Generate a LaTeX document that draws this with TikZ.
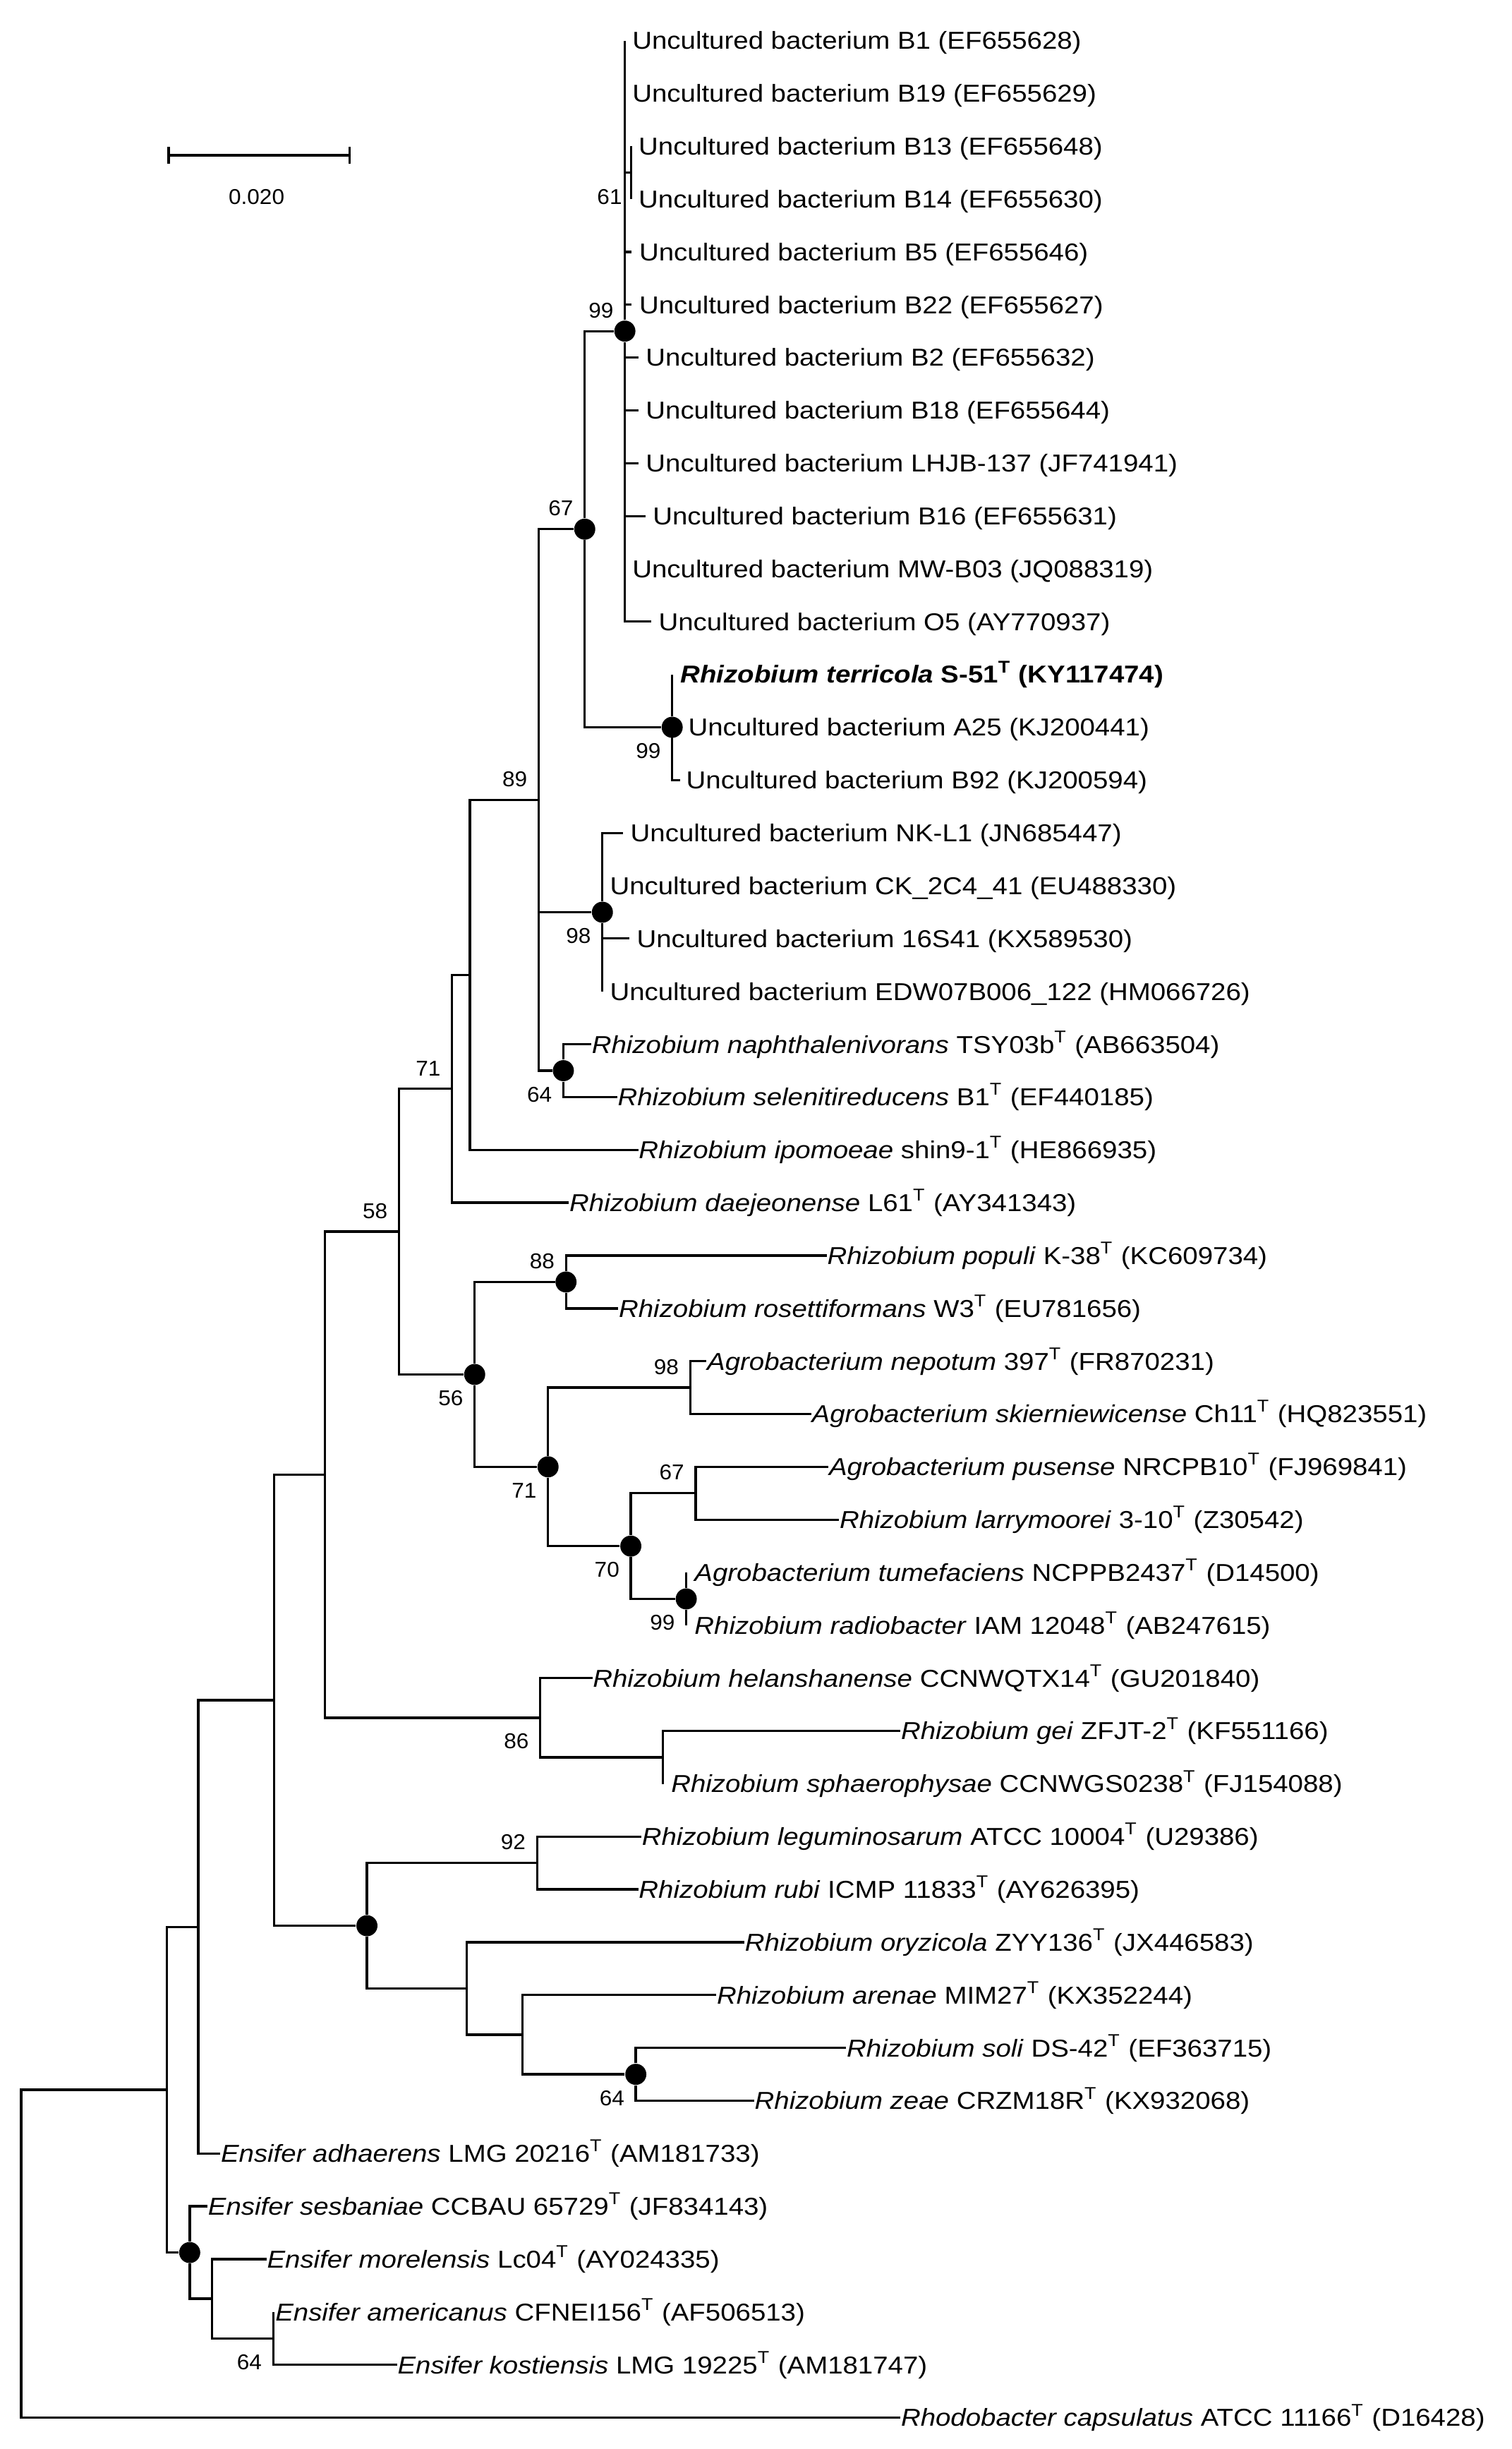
\documentclass[tikz,border=0pt]{standalone}
\usepackage{fontspec}
\setmainfont{Liberation Sans}[FakeStretch=1.11]
\newfontfamily\bootfamily{Liberation Sans}[FakeStretch=1.04]
\usetikzlibrary{positioning,arrows.meta}
\newcommand{\typ}{\textsuperscript{T}}
\newcommand{\treefont}{\fontsize{8.9pt}{10pt}\selectfont}
\newcommand{\bootfont}{\bootfamily\fontsize{7.8pt}{9pt}\selectfont}

\begin{document}
\begin{tikzpicture}[
        x=0.02cm, y=-0.02cm,
        branch/.style={draw, line width=0.85pt},
        leaf/.style={inner sep=0pt, text height=6.37pt, text depth=0pt, font=\treefont},
        boot/.style={inner sep=0pt, font=\bootfont},
        bsup/.style={boot, above left=0.16cm and 0.14cm of #1.center},
        bsdown/.style={boot, below left=0.2cm and 0.14cm of #1.center},
        bsdot/.style={circle, fill, inner sep=0pt, minimum size=0.27cm}
    ]
\useasboundingbox (0,0) rectangle (968,1568);

\coordinate (sbl) at (107.3,99.4);
\coordinate (sbr) at (224.5,99.4);
\draw[branch, {Bar[width=0.22cm]}-{Bar[width=0.22cm]}] (sbl) -- (sbr);
\node[boot] (sblab) at (164.3,125.9) {0.020};

\coordinate (t1) at (400.2,26.0);
\coordinate (t2) at (400.2,59.8);
\coordinate (t3) at (404.2,93.6);
\coordinate (t4) at (404.2,127.5);
\coordinate (t5) at (404.6,161.3);
\coordinate (t6) at (404.6,195.1);
\coordinate (t7) at (408.8,228.9);
\coordinate (t8) at (408.8,262.7);
\coordinate (t9) at (408.8,296.6);
\coordinate (t10) at (413.3,330.4);
\coordinate (t11) at (400.2,364.2);
\coordinate (t12) at (417.0,398.0);
\coordinate (t13) at (430.5,431.8);
\coordinate (t14) at (430.5,465.7);
\coordinate (t15) at (435.7,499.5);
\coordinate (t16) at (399.0,533.3);
\coordinate (t17) at (385.8,567.1);
\coordinate (t18) at (403.0,600.9);
\coordinate (t19) at (385.8,634.8);
\coordinate (t20) at (378.7,668.6);
\coordinate (t21) at (395.3,702.4);
\coordinate (t22) at (408.8,736.2);
\coordinate (t23) at (364.4,770.0);
\coordinate (t24) at (529.5,803.9);
\coordinate (t25) at (396.0,837.7);
\coordinate (t26) at (452.5,871.5);
\coordinate (t27) at (519.6,905.3);
\coordinate (t28) at (530.6,939.1);
\coordinate (t29) at (537.4,973.0);
\coordinate (t30) at (439.5,1006.8);
\coordinate (t31) at (439.5,1040.6);
\coordinate (t32) at (379.4,1074.4);
\coordinate (t33) at (576.7,1108.2);
\coordinate (t34) at (424.5,1142.1);
\coordinate (t35) at (410.8,1175.9);
\coordinate (t36) at (408.8,1209.7);
\coordinate (t37) at (476.8,1243.5);
\coordinate (t38) at (458.8,1277.3);
\coordinate (t39) at (542.0,1311.2);
\coordinate (t40) at (483.0,1345.0);
\coordinate (t41) at (141.1,1378.8);
\coordinate (t42) at (132.9,1412.6);
\coordinate (t43) at (170.7,1446.4);
\coordinate (t44) at (175.0,1480.3);
\coordinate (t45) at (254.3,1514.1);
\coordinate (t46) at (576.7,1547.9);

\node[leaf, right=0.09cm of t1] (l1) {Uncultured bacterium B1 (EF655628)};
\node[leaf, right=0.09cm of t2] (l2) {Uncultured bacterium B19 (EF655629)};
\node[leaf, right=0.09cm of t3] (l3) {Uncultured bacterium B13 (EF655648)};
\node[leaf, right=0.09cm of t4] (l4) {Uncultured bacterium B14 (EF655630)};
\node[leaf, right=0.09cm of t5] (l5) {Uncultured bacterium B5 (EF655646)};
\node[leaf, right=0.09cm of t6] (l6) {Uncultured bacterium B22 (EF655627)};
\node[leaf, right=0.09cm of t7] (l7) {Uncultured bacterium B2 (EF655632)};
\node[leaf, right=0.09cm of t8] (l8) {Uncultured bacterium B18 (EF655644)};
\node[leaf, right=0.09cm of t9] (l9) {Uncultured bacterium LHJB-137 (JF741941)};
\node[leaf, right=0.09cm of t10] (l10) {Uncultured bacterium B16 (EF655631)};
\node[leaf, right=0.09cm of t11] (l11) {Uncultured bacterium MW-B03 (JQ088319)};
\node[leaf, right=0.09cm of t12] (l12) {Uncultured bacterium O5 (AY770937)};
\node[leaf, right=0.1cm of t13] (l13) {\textbf{\textit{Rhizobium terricola} S-51\typ{} (KY117474)}};
\node[leaf, right=0.2cm of t14] (l14) {Uncultured bacterium A25 (KJ200441)};
\node[leaf, right=0.07cm of t15] (l15) {Uncultured bacterium B92 (KJ200594)};
\node[leaf, right=0.09cm of t16] (l16) {Uncultured bacterium NK-L1 (JN685447)};
\node[leaf, right=0.09cm of t17] (l17) {Uncultured bacterium CK\_2C4\_41 (EU488330)};
\node[leaf, right=0.09cm of t18] (l18) {Uncultured bacterium 16S41 (KX589530)};
\node[leaf, right=0.09cm of t19] (l19) {Uncultured bacterium EDW07B006\_122 (HM066726)};
\node[leaf, right=0pt of t20] (l20) {\textit{Rhizobium naphthalenivorans} TSY03b\typ{} (AB663504)};
\node[leaf, right=0pt of t21] (l21) {\textit{Rhizobium selenitireducens} B1\typ{} (EF440185)};
\node[leaf, right=0pt of t22] (l22) {\textit{Rhizobium ipomoeae} shin9-1\typ{} (HE866935)};
\node[leaf, right=0pt of t23] (l23) {\textit{Rhizobium daejeonense} L61\typ{} (AY341343)};
\node[leaf, right=0pt of t24] (l24) {\textit{Rhizobium populi} K-38\typ{} (KC609734)};
\node[leaf, right=0pt of t25] (l25) {\textit{Rhizobium rosettiformans} W3\typ{} (EU781656)};
\node[leaf, right=0pt of t26] (l26) {\textit{Agrobacterium nepotum} 397\typ{} (FR870231)};
\node[leaf, right=0pt of t27] (l27) {\textit{Agrobacterium skierniewicense} Ch11\typ{} (HQ823551)};
\node[leaf, right=0pt of t28] (l28) {\textit{Agrobacterium pusense} NRCPB10\typ{} (FJ969841)};
\node[leaf, right=0pt of t29] (l29) {\textit{Rhizobium larrymoorei} 3-10\typ{} (Z30542)};
\node[leaf, right=0.1cm of t30] (l30) {\textit{Agrobacterium tumefaciens} NCPPB2437\typ{} (D14500)};
\node[leaf, right=0.1cm of t31] (l31) {\textit{Rhizobium radiobacter} IAM 12048\typ{} (AB247615)};
\node[leaf, right=0pt of t32] (l32) {\textit{Rhizobium helanshanense} CCNWQTX14\typ{} (GU201840)};
\node[leaf, right=0pt of t33] (l33) {\textit{Rhizobium gei} ZFJT-2\typ{} (KF551166)};
\node[leaf, right=0.1cm of t34] (l34) {\textit{Rhizobium sphaerophysae} CCNWGS0238\typ{} (FJ154088)};
\node[leaf, right=0pt of t35] (l35) {\textit{Rhizobium leguminosarum} ATCC 10004\typ{} (U29386)};
\node[leaf, right=0pt of t36] (l36) {\textit{Rhizobium rubi} ICMP 11833\typ{} (AY626395)};
\node[leaf, right=0pt of t37] (l37) {\textit{Rhizobium oryzicola} ZYY136\typ{} (JX446583)};
\node[leaf, right=0pt of t38] (l38) {\textit{Rhizobium arenae} MIM27\typ{} (KX352244)};
\node[leaf, right=0pt of t39] (l39) {\textit{Rhizobium soli} DS-42\typ{} (EF363715)};
\node[leaf, right=0pt of t40] (l40) {\textit{Rhizobium zeae} CRZM18R\typ{} (KX932068)};
\node[leaf, right=0pt of t41] (l41) {\textit{Ensifer adhaerens} LMG 20216\typ{} (AM181733)};
\node[leaf, right=0pt of t42] (l42) {\textit{Ensifer sesbaniae} CCBAU 65729\typ{} (JF834143)};
\node[leaf, right=0pt of t43] (l43) {\textit{Ensifer morelensis} Lc04\typ{} (AY024335)};
\node[leaf, right=0.02cm of t44] (l44) {\textit{Ensifer americanus} CFNEI156\typ{} (AF506513)};
\node[leaf, right=0pt of t45] (l45) {\textit{Ensifer kostiensis} LMG 19225\typ{} (AM181747)};
\node[leaf, right=0pt of t46] (l46) {\textit{Rhodobacter capsulatus} ATCC 11166\typ{} (D16428)};

\coordinate (n61) at (404.2,110.55);
\node[bsdot] (n99a) at (400.2,212.0) {};
\node[bsdot] (n99b) at (430.5,465.65) {};
\node[bsdot] (n67a) at (374.5,338.8) {};
\node[bsdot] (n98a) at (385.8,584.05) {};
\node[bsdot] (n64a) at (360.8,685.5) {};
\coordinate (n89) at (345,512.2);
\coordinate (n1) at (301,624.2);
\coordinate (n71a) at (289.5,697.1);
\node[bsdot] (n88) at (362.5,820.8) {};
\coordinate (n98b) at (442,888.4);
\coordinate (n67b) at (445.5,956.05);
\node[bsdot] (n99c) at (439.5,1023.7) {};
\node[bsdot] (n70) at (404,989.9) {};
\node[bsdot] (n71b) at (351,939.15) {};
\node[bsdot] (n56) at (304,880) {};
\coordinate (n58) at (255.5,788.55);
\coordinate (n2) at (424.5,1125.15);
\coordinate (n86) at (346,1099.8);
\coordinate (n3) at (208,944.2);
\coordinate (n92) at (344,1192.8);
\node[bsdot] (n64b) at (407.2,1328.1) {};
\coordinate (n4) at (334.7,1302.7);
\coordinate (n5) at (299,1273.1);
\node[bsdot] (n6) at (235,1232.95) {};
\coordinate (n7) at (175.5,1088.6);
\coordinate (n8) at (127,1233.7);
\coordinate (n64c) at (175,1497.2);
\coordinate (n9) at (135.7,1471.8);
\node[bsdot] (n10) at (121.5,1442.2) {};
\coordinate (n11) at (107,1337.95);
\coordinate (root) at (13.6,1442.9);

\draw[branch] (n61) |- (t3) (n61) |- (t4);
\draw[branch] (n99a) |- (t1) (n99a) |- (t2) (n99a) |- (n61) (n99a) |- (t5)
    (n99a) |- (t6) (n99a) |- (t7) (n99a) |- (t8) (n99a) |- (t9)
    (n99a) |- (t10) (n99a) |- (t11) (n99a) |- (t12);
\draw[branch] (n99b) |- (t13) (n99b) |- (t14) (n99b) |- (t15);
\draw[branch] (n67a) |- (n99a) (n67a) |- (n99b);
\draw[branch] (n98a) |- (t16) (n98a) |- (t17) (n98a) |- (t18) (n98a) |- (t19);
\draw[branch] (n64a) |- (t20) (n64a) |- (t21);
\draw[branch] (n89) |- (n67a) (n89) |- (n98a) (n89) |- (n64a);
\draw[branch] (n1) |- (n89) (n1) |- (t22);
\draw[branch] (n71a) |- (n1) (n71a) |- (t23);
\draw[branch] (n88) |- (t24) (n88) |- (t25);
\draw[branch] (n98b) |- (t26) (n98b) |- (t27);
\draw[branch] (n67b) |- (t28) (n67b) |- (t29);
\draw[branch] (n99c) |- (t30) (n99c) |- (t31);
\draw[branch] (n70) |- (n67b) (n70) |- (n99c);
\draw[branch] (n71b) |- (n98b) (n71b) |- (n70);
\draw[branch] (n56) |- (n88) (n56) |- (n71b);
\draw[branch] (n58) |- (n71a) (n58) |- (n56);
\draw[branch] (n2) |- (t33) (n2) |- (t34);
\draw[branch] (n86) |- (t32) (n86) |- (n2);
\draw[branch] (n3) |- (n58) (n3) |- (n86);
\draw[branch] (n92) |- (t35) (n92) |- (t36);
\draw[branch] (n64b) |- (t39) (n64b) |- (t40);
\draw[branch] (n4) |- (t38) (n4) |- (n64b);
\draw[branch] (n5) |- (t37) (n5) |- (n4);
\draw[branch] (n6) |- (n92) (n6) |- (n5);
\draw[branch] (n7) |- (n3) (n7) |- (n6);
\draw[branch] (n8) |- (n7) (n8) |- (t41);
\draw[branch] (n64c) |- (t44) (n64c) |- (t45);
\draw[branch] (n9) |- (t43) (n9) |- (n64c);
\draw[branch] (n10) |- (t42) (n10) |- (n9);
\draw[branch] (n11) |- (n8) (n11) |- (n10);
\draw[branch] (root) |- (n11) (root) |- (t46);

\node[boot, below left=0.21cm and 0.11cm of n61.center] (bs61) {61};
\node[bsup=n99a] (bs99a) {99};
\node[bsdown=n99b] (bs99b) {99};
\node[bsup=n67a] (bs67a) {67};
\node[bsup=n89] (bs89) {89};
\node[bsdown=n98a] (bs98a) {98};
\node[bsdown=n64a] (bs64a) {64};
\node[bsup=n71a] (bs71a) {71};
\node[bsup=n58] (bs58) {58};
\node[bsup=n88] (bs88) {88};
\node[bsdown=n56] (bs56) {56};
\node[bsdown=n71b] (bs71b) {71};
\node[bsup=n98b] (bs98b) {98};
\node[bsup=n67b] (bs67b) {67};
\node[bsdown=n70] (bs70) {70};
\node[bsdown=n99c] (bs99c) {99};
\node[bsdown=n86] (bs86) {86};
\node[bsup=n92] (bs92) {92};
\node[bsdown=n64b] (bs64b) {64};
\node[bsdown=n64c] (bs64c) {64};
\end{tikzpicture}
\end{document}
